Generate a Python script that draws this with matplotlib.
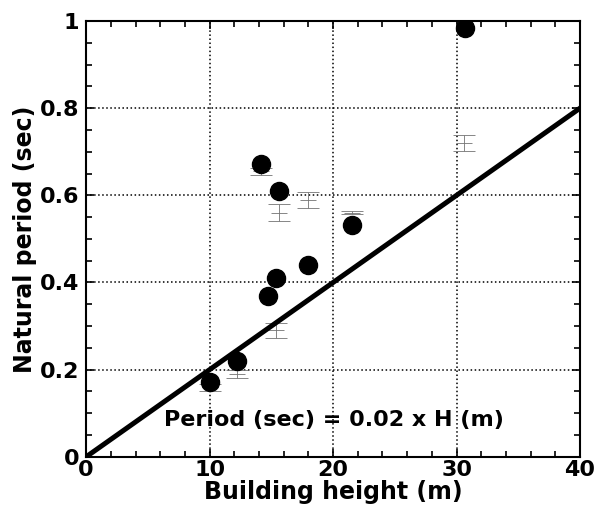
import numpy as np
import matplotlib
matplotlib.use("Agg")
from matplotlib import pyplot as plt
from matplotlib.ticker import MultipleLocator

plt.rcParams["font.family"] = ["DejaVu Sans"]
plt.rcParams["font.weight"] = "bold"

# measured natural periods (filled circles)
height = [30.7, 14.2, 15.6, 21.5, 18.0, 15.4, 14.7, 12.2, 10.0]
period = [0.983, 0.671, 0.61, 0.531, 0.441, 0.411, 0.368, 0.219, 0.171]

# estimated periods with their spread (light error bars)
est_height = [14.2, 15.6, 18.0, 21.5, 30.6, 15.4, 12.2, 10.0]
est_period = [0.655, 0.56, 0.59, 0.56, 0.72, 0.29, 0.19, 0.16]
est_err = [0.008, 0.02, 0.018, 0.004, 0.019, 0.018, 0.01, 0.008]

# code formula: T = 0.02 H
coef = 0.02
h_line = [0, 40]

fig = plt.figure(figsize=(5.98, 5.11), dpi=100)
ax = fig.add_axes([0.144, 0.106, 0.826, 0.853])

ax.errorbar(est_height, est_period, yerr=est_err, fmt="_", color="0.45",
            markersize=12, markeredgewidth=0.6, ecolor="0.45",
            elinewidth=0.6, capsize=8, capthick=0.6, zorder=2)
ax.plot(h_line, [coef * h for h in h_line], color="black", lw=3.6, zorder=3)
ax.plot(height, period, "o", color="black", markersize=13, zorder=4)

ax.text(20.1, 0.085, "Period (sec) = 0.02 x H (m)", ha="center", va="center",
        fontsize=16, fontweight="bold")

ax.set_xlim(0, 40)
ax.set_ylim(0, 1)
ax.xaxis.set_minor_locator(MultipleLocator(2))
ax.yaxis.set_minor_locator(MultipleLocator(0.05))
ax.set_xticks([0, 10, 20, 30, 40])
ax.set_xticklabels(["0", "10", "20", "30", "40"])
ax.set_yticks([0, 0.2, 0.4, 0.6, 0.8, 1])
ax.set_yticklabels(["0", "0.2", "0.4", "0.6", "0.8", "1"])
ax.tick_params(which="both", direction="in", top=True, right=True,
               labelsize=16, width=1.2)
ax.tick_params(which="major", length=6)
ax.tick_params(which="minor", length=4)
ax.tick_params(axis="x", pad=2)
ax.tick_params(axis="y", pad=5)
ax.grid(True, which="major", color="black", linestyle=":", linewidth=1.1)
for s in ax.spines.values():
    s.set_linewidth(1.5)

ax.set_xlabel("Building height (m)", fontsize=17, fontweight="bold", labelpad=0)
ax.set_ylabel("Natural period (sec)", fontsize=17, fontweight="bold", labelpad=2)

fig.savefig("out.png", dpi=100)
